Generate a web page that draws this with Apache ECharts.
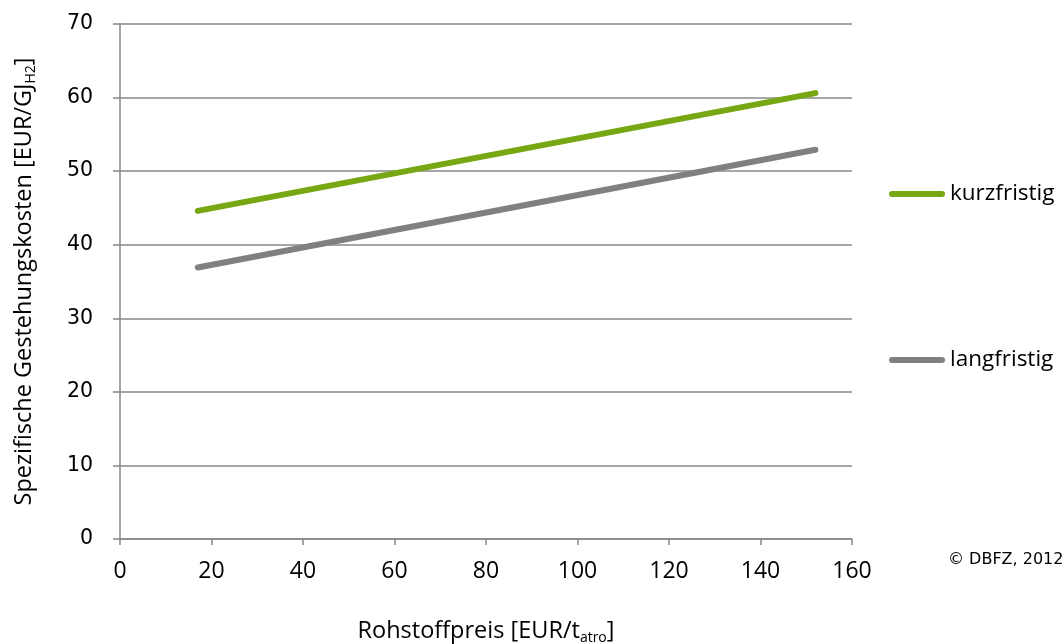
<!DOCTYPE html>
<html><head><meta charset="utf-8">
<script src="https://cdn.jsdelivr.net/npm/echarts@6/dist/echarts.min.js"></script>
<style>html,body{margin:0;padding:0;background:#fff}#c{width:1064px;height:644px}</style>
</head><body><div id="c"></div>
<script>
const xValues = [17, 152];
const kurzfristig = [44.6, 60.6];
const langfristig = [36.9, 52.9];
const seriesNames = ['kurzfristig', 'langfristig'];
const xTitle = '{a|Rohstoffpreis [EUR/t}{s|atro}{a|]}';
const yTitle = '{a|Spezifische Gestehungskosten [EUR/GJ}{s|H2}{a|]}';

const chart = echarts.init(document.getElementById('c'), null, {renderer: 'canvas'});
const axisGray = '#888888';
const titleRich = {
  a: {fontFamily: 'Open Sans', fontSize: 23.5, color: '#000', lineHeight: 28, verticalAlign: 'middle'},
  s: {fontFamily: 'Open Sans', fontSize: 14, color: '#000', lineHeight: 14, verticalAlign: 'bottom'}
};
const legendIcon = 'path://M3,0 L53,0 A3,3 0 0 1 53,6 L3,6 A3,3 0 0 1 3,0 Z';
chart.setOption({
  animation: false,
  backgroundColor: '#fff',
  grid: {left: 120, right: 212, top: 24, bottom: 105, containLabel: false, outerBoundsMode: 'none'},
  xAxis: {
    type: 'value', min: 0, max: 160, interval: 20,
    name: xTitle, nameLocation: 'middle', nameGap: 78,
    nameTextStyle: {rich: titleRich},
    axisLine: {show: true, lineStyle: {color: axisGray, width: 1.5}},
    axisTick: {show: true, length: 6, lineStyle: {color: axisGray, width: 1.5}},
    axisLabel: {fontFamily: 'Open Sans', fontSize: 23, color: '#000', margin: 21},
    splitLine: {show: false}
  },
  yAxis: {
    type: 'value', min: 0, max: 70, interval: 10,
    name: yTitle, nameLocation: 'middle', nameGap: 82, nameRotate: 90,
    nameTextStyle: {rich: titleRich},
    axisLine: {show: true, lineStyle: {color: axisGray, width: 1.5}},
    axisTick: {show: true, length: 7, lineStyle: {color: axisGray, width: 1.5}},
    axisLabel: {fontFamily: 'DejaVu Sans', fontSize: 20.5, color: '#000', margin: 27},
    splitLine: {show: true, lineStyle: {color: axisGray, width: 1.5}}
  },
  legend: [
    {data: [seriesNames[0]], orient: 'vertical', left: 889, top: 181, padding: 0, itemWidth: 56, itemHeight: 6, itemGap: 0,
     icon: legendIcon, textStyle: {fontFamily: 'Open Sans', fontSize: 22.5, color: '#000', lineHeight: 26}},
    {data: [seriesNames[1]], orient: 'vertical', left: 889, top: 347, padding: 0, itemWidth: 56, itemHeight: 6, itemGap: 0,
     icon: legendIcon, textStyle: {fontFamily: 'Open Sans', fontSize: 22.5, color: '#000', lineHeight: 26}}
  ],
  graphic: [{type: 'text', left: 948, top: 552, style: {text: '© DBFZ, 2012', font: '16px "DejaVu Sans"', fill: '#000'}}],
  series: [
    {name: seriesNames[0], type: 'line', data: xValues.map((x, i) => [x, kurzfristig[i]]),
     showSymbol: false, symbol: 'none', lineStyle: {color: '#77a712', width: 6, cap: 'round'}, itemStyle: {color: '#77a712'}},
    {name: seriesNames[1], type: 'line', data: xValues.map((x, i) => [x, langfristig[i]]),
     showSymbol: false, symbol: 'none', lineStyle: {color: '#808080', width: 6, cap: 'round'}, itemStyle: {color: '#808080'}}
  ]
});
</script></body></html>
